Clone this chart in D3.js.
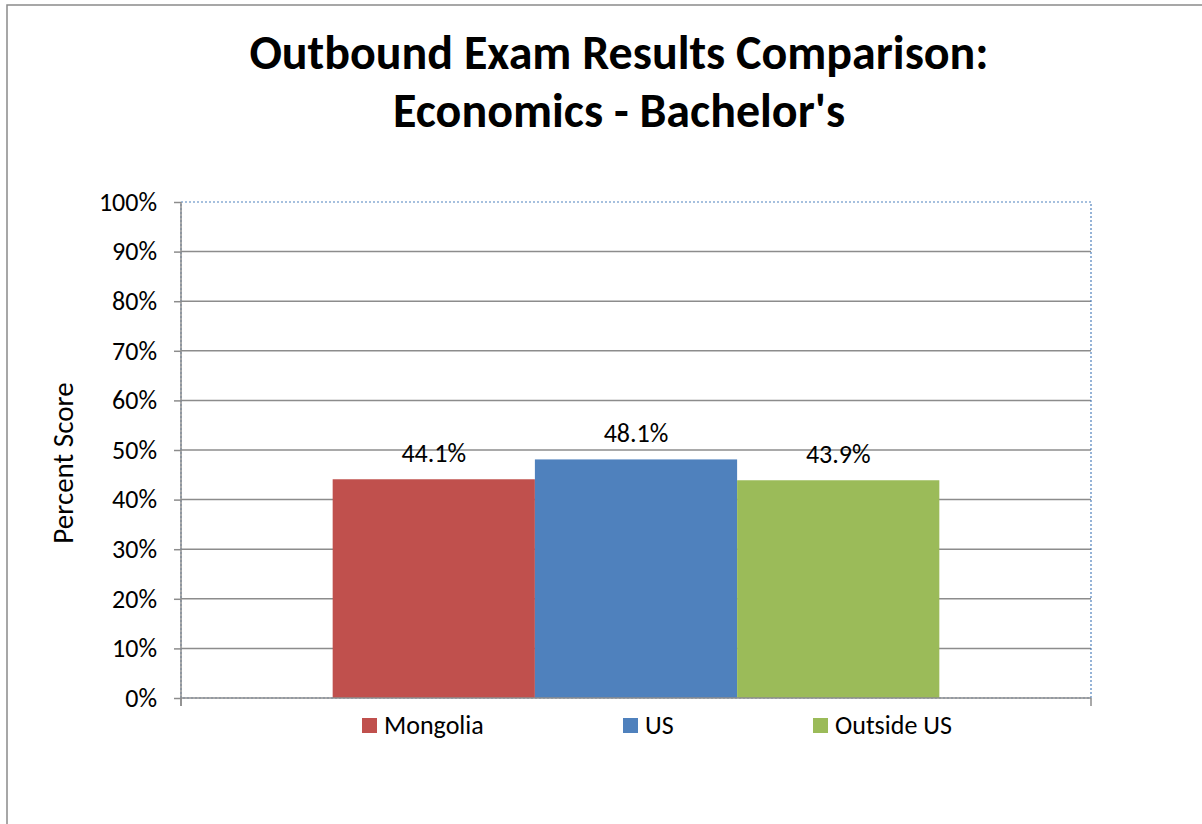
<!DOCTYPE html>
<meta charset="utf-8">
<head>
  <meta charset="utf-8">
  <title>Outbound Exam Results Comparison</title>
</head>
<style>
body { margin: 0; background: #fff; }
text { font-family: Carlito, Calibri, Lato, sans-serif; fill: #000; }
.grid line { stroke: #8c8c8c; stroke-width: 1.5; }
.frame { fill: none; stroke: #4f81bd; stroke-width: 1.2; stroke-dasharray: 2,2; }
.axis line, .axis path { stroke: #8c8c8c; stroke-width: 1.5; }
</style>
<body>
<div id="chart"></div>

<script src="https://d3js.org/d3.v7.min.js"></script>
<script>

// chart values
var titleLines = ["Outbound Exam Results Comparison:", "Economics - Bachelor's"]
var categories = ["Economics - Bachelor's"]
var seriesNames = ["Mongolia", "US", "Outside US"]
var seriesValues = [0.441, 0.481, 0.439]
var seriesColors = ["#c0504d", "#4f81bd", "#9bbb59"]
var yTicks = [0, 0.1, 0.2, 0.3, 0.4, 0.5, 0.6, 0.7, 0.8, 0.9, 1.0]
var yLabel = "Percent Score"

var width = 1202
var height = 824
var plot = {left: 181, right: 1091, top: 202, bottom: 698}

var svg = d3.select('#chart')
    .append('svg')
    .attr('width', width)
    .attr('height', height)

// outer chart border (runs off the right / bottom edge)
svg.append('rect')
    .attr('x', 7).attr('y', 5)
    .attr('width', width + 10).attr('height', height + 10)
    .style('fill', '#fff')
    .style('stroke', '#8a8a8a')
    .style('stroke-width', 1.5)

// title
svg.selectAll('.title')
    .data(titleLines)
    .enter().append('text')
    .attr('class', 'title')
    .attr('x', 619)
    .attr('y', function (d, i) { return 69 + i * 58 })
    .attr('text-anchor', 'middle')
    .style('font-size', '48px')
    .style('font-weight', 'bold')
    .text(function (d) { return d })

var y = d3.scaleLinear().domain([0, 1]).range([plot.bottom, plot.top])

var x0 = d3.scaleBand()
    .domain(categories)
    .range([plot.left, plot.right])

var x1 = d3.scaleBand()
    .domain(seriesNames)
    .range([0, x0.bandwidth()])
    .paddingInner(0)
    .paddingOuter(0.75)

// gridlines (the 100% line is the dotted plot-area border)
svg.append('g')
    .attr('class', 'grid')
    .selectAll('line')
    .data(yTicks.filter(function (d) { return d > 0 && d < 1 }))
    .enter().append('line')
    .attr('x1', plot.left).attr('x2', plot.right)
    .attr('y1', function (d) { return y(d) })
    .attr('y2', function (d) { return y(d) })

// plot area border
svg.append('rect')
    .attr('class', 'frame')
    .attr('x', plot.left).attr('y', plot.top)
    .attr('width', plot.right - plot.left)
    .attr('height', plot.bottom - plot.top)

// bars
var bars = svg.append('g')
    .selectAll('g')
    .data(categories)
    .enter().append('g')
    .attr('transform', function (d) { return 'translate(' + x0(d) + ',0)' })

bars.selectAll('rect')
    .data(seriesNames.map(function (s, i) { return {name: s, value: seriesValues[i], color: seriesColors[i]} }))
    .enter().append('rect')
    .attr('x', function (d) { return x1(d.name) })
    .attr('y', function (d) { return y(d.value) })
    .attr('width', x1.bandwidth())
    .attr('height', function (d) { return y(0) - y(d.value) })
    .style('fill', function (d) { return d.color })

bars.selectAll('.label')
    .data(seriesNames.map(function (s, i) { return {name: s, value: seriesValues[i]} }))
    .enter().append('text')
    .attr('class', 'label')
    .attr('x', function (d) { return x1(d.name) + x1.bandwidth() / 2 })
    .attr('y', function (d) { return y(d.value) - 17 })
    .attr('text-anchor', 'middle')
    .style('font-size', '26px')
    .text(function (d) { return d3.format('.1%')(d.value) })

// y axis
var yAxis = svg.append('g')
    .attr('class', 'axis')
    .attr('transform', 'translate(' + plot.left + ',0)')
    .call(d3.axisLeft(y).tickValues(yTicks).tickFormat(d3.format('.0%')).tickSize(7).tickPadding(17))
yAxis.select('.domain').remove()
yAxis.append('line')
    .attr('x1', 0).attr('x2', 0)
    .attr('y1', plot.top).attr('y2', plot.bottom + 8)
yAxis.selectAll('.tick text')
    .style('font-size', '26px')
    .style('font-family', 'Carlito, Calibri, Lato, sans-serif')
    .attr('fill', '#000')

// x axis line with end ticks
var xAxis = svg.append('g').attr('class', 'axis')
xAxis.append('line')
    .attr('x1', plot.left).attr('x2', plot.right)
    .attr('y1', y(0)).attr('y2', y(0))
xAxis.selectAll('.etick')
    .data(x0.range())
    .enter().append('line')
    .attr('x1', function (d) { return d }).attr('x2', function (d) { return d })
    .attr('y1', y(0)).attr('y2', y(0) + 8)

// y axis title
svg.append('text')
    .attr('transform', 'translate(73,463) rotate(-90)')
    .attr('text-anchor', 'middle')
    .style('font-size', '29px')
    .text(yLabel)

// legend
var legendX = [362, 623, 813]
var legend = svg.append('g')
    .selectAll('g')
    .data(seriesNames)
    .enter().append('g')
    .attr('transform', function (d, i) { return 'translate(' + legendX[i] + ',718)' })
legend.append('rect')
    .attr('width', 15).attr('height', 15)
    .style('fill', function (d, i) { return seriesColors[i] })
legend.append('text')
    .attr('x', 22).attr('y', 16)
    .style('font-size', '26px')
    .text(function (d) { return d })

</script>
</body>
